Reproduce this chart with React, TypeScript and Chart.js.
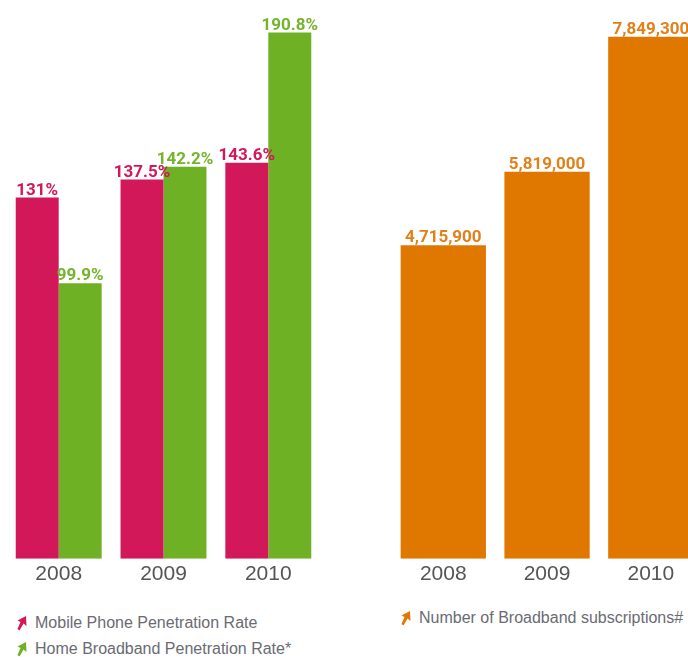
import React, { useEffect, useRef } from "react";
import { Chart, registerables } from "chart.js";

Chart.register(...registerables);

const years = ["2008", "2009", "2010"];
const mobileRate = [131, 137.5, 143.6];
const broadbandRate = [99.9, 142.2, 190.8];
const subscriptions = [4715900, 5819000, 7849300];

const MAGENTA = "#D21858";
const GREEN = "#6FB125";
const ORANGE = "#E07800";
const TEXT_GRAY = "#555555";
const LEGEND_GRAY = "#6a6b72";

const valueLabelPlugin = {
  id: "valueLabels",
  afterDatasetsDraw(chart: any) {
    const ctx = chart.ctx;
    ctx.save();
    ctx.font = "bold 17px Roboto";
    ctx.textAlign = "center";
    ctx.textBaseline = "alphabetic";
    chart.data.datasets.forEach((ds: any, di: number) => {
      const meta = chart.getDatasetMeta(di);
      meta.data.forEach((bar: any, i: number) => {
        const v = ds.data[i];
        const txt = ds.fmt ? ds.fmt(v) : String(v);
        ctx.fillStyle = ds.labelColor || ds.backgroundColor;
        ctx.fillText(txt, bar.x, bar.y - 3);
      });
    });
    ctx.restore();
  },
};

function makeOptions(yMax: number, padding: any) {
  return {
    responsive: false,
    maintainAspectRatio: false,
    animation: false,
    layout: { padding },
    plugins: { legend: { display: false }, tooltip: { enabled: false } },
    scales: {
      x: {
        grid: { display: false, drawTicks: false },
        border: { display: false },
        ticks: {
          color: TEXT_GRAY,
          font: { family: "'Liberation Sans', Arial", size: 21 },
          padding: 3,
        },
      },
      y: { display: false, min: 0, max: yMax },
    },
  } as any;
}

function PenetrationChart() {
  const ref = useRef<HTMLCanvasElement>(null);
  useEffect(() => {
    const chart = new Chart(ref.current!, {
      type: "bar",
      data: {
        labels: years,
        datasets: [
          {
            label: "Mobile Phone Penetration Rate",
            data: mobileRate,
            backgroundColor: MAGENTA,
            categoryPercentage: 0.82,
            barPercentage: 1,
            fmt: (v: number) => v + "%",
          } as any,
          {
            label: "Home Broadband Penetration Rate*",
            data: broadbandRate,
            backgroundColor: GREEN,
            labelColor: "#74B52C",
            categoryPercentage: 0.82,
            barPercentage: 1,
            fmt: (v: number) => v + "%",
          } as any,
        ],
      },
      options: makeOptions(199, { left: 6.3, right: 19.3, top: 10, bottom: 0 }),
      plugins: [valueLabelPlugin],
    });
    return () => chart.destroy();
  }, []);
  return (
    <canvas
      ref={ref}
      width={340}
      height={590}
      style={{ position: "absolute", left: 0, top: 0, width: 340, height: 590 }}
    />
  );
}

function SubscriptionChart() {
  const ref = useRef<HTMLCanvasElement>(null);
  useEffect(() => {
    const chart = new Chart(ref.current!, {
      type: "bar",
      data: {
        labels: years,
        datasets: [
          {
            label: "Number of Broadband subscriptions#",
            data: subscriptions,
            backgroundColor: ORANGE,
            labelColor: "#E2801A",
            categoryPercentage: 0.822,
            barPercentage: 1,
            fmt: (v: number) => v.toLocaleString("en-US"),
          } as any,
        ],
      },
      options: makeOptions(8253000, { left: 11.4, right: 17.3, top: 10, bottom: 0 }),
      plugins: [valueLabelPlugin],
    });
    return () => chart.destroy();
  }, []);
  return (
    <canvas
      ref={ref}
      width={340}
      height={590}
      style={{ position: "absolute", left: 380, top: 0, width: 340, height: 590 }}
    />
  );
}

function Pin({ color }: { color: string }) {
  return (
    <svg width="10" height="15" viewBox="0 0 10 15" style={{ display: "block" }}>
      <path d="M9 0 L9.5 10 L6.5 7.5 L2.5 14.5 L0.5 13 L3.5 6 L0.5 4.5 Z" fill={color} />
    </svg>
  );
}

function LegendItem({ x, y, color, text }: { x: number; y: number; color: string; text: string }) {
  return (
    <div
      style={{
        position: "absolute",
        left: x,
        top: y - 10,
        height: 20,
        display: "flex",
        alignItems: "center",
        whiteSpace: "nowrap",
        fontFamily: "'Liberation Sans', Arial, sans-serif",
        fontSize: 16,
        color: LEGEND_GRAY,
      }}
    >
      <div style={{ width: 18 }}>
        <Pin color={color} />
      </div>
      <span>{text}</span>
    </div>
  );
}

export default function App() {
  return (
    <div
      style={{
        position: "absolute",
        left: 0,
        top: 0,
        width: 688,
        height: 660,
        overflow: "hidden",
        background: "#fff",
      }}
    >
      <PenetrationChart />
      <SubscriptionChart />
      <LegendItem x={17} y={623} color={MAGENTA} text="Mobile Phone Penetration Rate" />
      <LegendItem x={17} y={649} color={GREEN} text="Home Broadband Penetration Rate*" />
      <LegendItem x={401} y={618} color={ORANGE} text="Number of Broadband subscriptions#" />
    </div>
  );
}
